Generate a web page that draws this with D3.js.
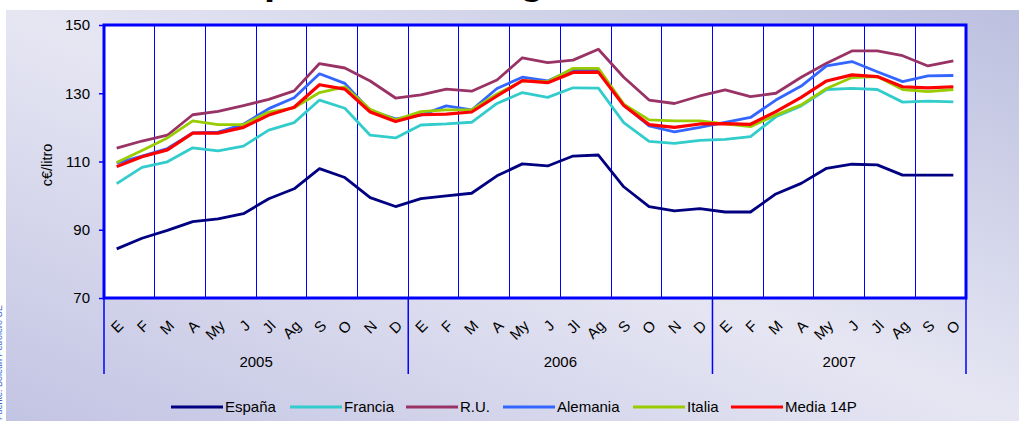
<!DOCTYPE html>
<html>
<head>
<meta charset="utf-8">
<script src="https://cdn.jsdelivr.net/npm/d3@7"></script>
<style>
html,body{margin:0;padding:0;background:#fff;}
svg{display:block;}
text{font-family:"Liberation Sans",Arial,sans-serif;}
</style>
</head>
<body>
<svg id="chart" width="1019" height="421"></svg>
<script>
// ---- data ----
const months = ["E","F","M","A","My","J","Jl","Ag","S","O","N","D",
                "E","F","M","A","My","J","Jl","Ag","S","O","N","D",
                "E","F","M","A","My","J","Jl","Ag","S","O"];
const years = ["2005","2006","2007"];
const yearMonths = [12, 12, 10];
const yTicks = [70, 90, 110, 130, 150];
const seriesNames = ["España","Francia","R.U.","Alemania","Italia","Media 14P"];
const seriesColors = ["#000080","#33CCCC","#993366","#3366FF","#99CC00","#FF0000"];

const espana = [84.4,87.5,89.8,92.4,93.2,94.7,99.1,102.0,107.9,105.3,99.4,96.8,
                99.1,99.9,100.7,105.8,109.3,108.7,111.6,111.9,102.6,96.8,95.5,96.2,
                95.2,95.2,100.5,103.6,108.0,109.2,109.0,106.0,106.0,106.0];
const francia = [103.5,108.3,109.9,114.0,113.1,114.5,119.2,121.4,128.0,125.6,117.7,116.9,
                 120.7,121.0,121.5,127.0,130.2,128.8,131.6,131.5,121.4,115.9,115.3,116.2,
                 116.5,117.3,123.1,126.3,131.1,131.4,131.1,127.4,127.7,127.5];
const ru = [113.9,116.0,117.7,123.7,124.7,126.4,128.2,130.7,138.7,137.4,133.6,128.6,
            129.5,131.2,130.6,133.9,140.4,139.0,139.7,142.9,134.7,128.0,127.0,129.2,
            131.0,129.0,130.0,134.7,138.8,142.4,142.4,141.0,138.0,139.5];
const alemania = [109.5,111.6,113.8,118.4,118.6,120.9,125.5,128.7,135.7,132.9,124.9,122.5,
                  123.6,126.3,125.1,131.4,134.7,133.6,137.0,136.8,126.6,120.4,118.7,120.0,
                  121.5,122.9,128.0,132.1,138.0,139.3,136.3,133.4,135.1,135.2];
const italia = [109.7,113.2,116.9,121.9,120.8,120.8,124.5,125.7,130.2,131.9,125.3,122.2,
                124.6,125.1,125.1,129.8,133.6,133.4,137.3,137.3,126.8,122.2,121.9,121.9,
                121.0,120.2,123.6,126.6,131.4,134.6,134.9,131.1,130.5,131.1];
const media = [108.5,111.4,113.4,118.3,118.3,120.0,123.6,125.9,132.5,131.2,124.5,121.7,
               123.7,123.9,124.5,129.2,133.7,133.1,136.1,136.2,126.4,120.8,120.0,121.0,
               121.1,120.9,124.6,128.8,133.6,135.4,134.9,131.9,131.6,131.9];
const seriesValues = [espana, francia, ru, alemania, italia, media];

// ---- layout ----
const svg = d3.select("#chart");
const W = 1019, H = 421;
const plot = {left: 104, right: 966, top: 25, bottom: 298};
const blue = "#0000FF";

// background panel
const defs = svg.append("defs");
const grad = defs.append("linearGradient").attr("id","bg")
  .attr("x1","0").attr("y1","1").attr("x2","1").attr("y2","0");
grad.append("stop").attr("offset","0").attr("stop-color","#c2c4e3");
grad.append("stop").attr("offset","0.5").attr("stop-color","#e6e6f3");
grad.append("stop").attr("offset","1").attr("stop-color","#bcc0df");
svg.append("rect").attr("x",6).attr("y",10).attr("width",W-6).attr("height",H-10).attr("fill","url(#bg)");

// title (cut by top of picture, only descenders show)
svg.append("text").attr("x",4).attr("y",-6)
  .attr("font-family","'Liberation Serif','Times New Roman',serif")
  .attr("font-weight","bold").attr("font-size",40).attr("fill","#000")
  .text("Evolución de precios de la gasolina");

// side source text (cut by left edge)
svg.append("text").attr("transform","translate(1.5,420) rotate(-90)")
  .attr("font-size",9).attr("fill","#3a5fcd")
  .text("Fuente: Boletín Petrolero UE");

// scales
const idx = d3.range(months.length);
const x = d3.scaleBand().domain(idx).range([plot.left, plot.right]).padding(0);
const cx = i => x(i) + x.bandwidth()/2;
const y = d3.scaleLinear().domain([70,150]).range([plot.bottom, plot.top]);

// plot area
svg.append("rect").attr("x",plot.left).attr("y",plot.top)
  .attr("width",plot.right-plot.left).attr("height",plot.bottom-plot.top)
  .attr("fill","#fff");

// vertical grid lines every 2 months
svg.append("g").selectAll("line").data(idx.filter(i => i>0 && i%2===0)).join("line")
  .attr("x1", i => x(i)).attr("x2", i => x(i))
  .attr("y1", plot.top).attr("y2", plot.bottom)
  .attr("stroke", blue).attr("stroke-width",1).attr("shape-rendering","crispEdges");

// y axis
const yAxis = d3.axisLeft(y).tickValues(yTicks).tickSize(5).tickPadding(9);
const gy = svg.append("g").attr("transform",`translate(${plot.left},0)`).call(yAxis);
gy.select(".domain").remove();
gy.selectAll(".tick line").attr("stroke",blue).attr("stroke-width",1.5);
gy.selectAll(".tick text").attr("font-size",15).attr("fill","#000")
  .attr("font-family","'Liberation Sans',Arial,sans-serif");

// y title
svg.append("text").attr("transform",`translate(52,165) rotate(-90)`)
  .attr("text-anchor","middle").attr("font-size",14.5).attr("fill","#000")
  .text("c€/litro");

// lines
const line = d3.line().x((d,i) => cx(i)).y(d => y(d));
svg.append("g").selectAll("path").data(seriesValues).join("path")
  .attr("d", d => line(d))
  .attr("fill","none")
  .attr("stroke",(d,i) => seriesColors[i])
  .attr("stroke-width",(d,i) => i===5 ? 3.2 : 2.8)
  .attr("stroke-linejoin","round");

// frame
svg.append("rect").attr("x",plot.left).attr("y",plot.top)
  .attr("width",plot.right-plot.left).attr("height",plot.bottom-plot.top)
  .attr("fill","none").attr("stroke",blue).attr("stroke-width",3);

// month labels
svg.append("g").selectAll("text").data(idx).join("text")
  .attr("transform", i => `translate(${cx(i)+4},323) rotate(-45)`)
  .attr("text-anchor","end").attr("dy","0.35em")
  .attr("font-size",15).attr("fill","#000")
  .text(i => months[i]);

// year separators and labels
let start = 0;
const yearBounds = years.map((yr,k) => {
  const s = start; start += yearMonths[k];
  return {yr, s, e: start};
});
const sepX = yearBounds.map(b => x(b.s)).concat([plot.right]);
svg.append("g").selectAll("line").data(sepX).join("line")
  .attr("x1", d => d).attr("x2", d => d)
  .attr("y1", plot.bottom).attr("y2", 374)
  .attr("stroke", blue).attr("stroke-width",1.5);
svg.append("g").selectAll("text").data(yearBounds).join("text")
  .attr("x", b => (x(b.s) + (b.e < months.length ? x(b.e) : plot.right))/2)
  .attr("y", 362).attr("dy","0.35em").attr("text-anchor","middle")
  .attr("font-size",15).attr("fill","#000")
  .text(b => b.yr);

// legend
const legX = [171, 290, 406, 503, 633, 731];
const lg = svg.append("g").selectAll("g").data(seriesNames).join("g")
  .attr("transform",(d,i) => `translate(${legX[i]},407)`);
lg.append("line").attr("x1",0).attr("x2",52).attr("y1",0).attr("y2",0)
  .attr("stroke",(d,i) => seriesColors[i]).attr("stroke-width",3);
lg.append("text").attr("x",54).attr("dy","0.35em").attr("font-size",15).attr("fill","#000")
  .text(d => d);
</script>
</body>
</html>
